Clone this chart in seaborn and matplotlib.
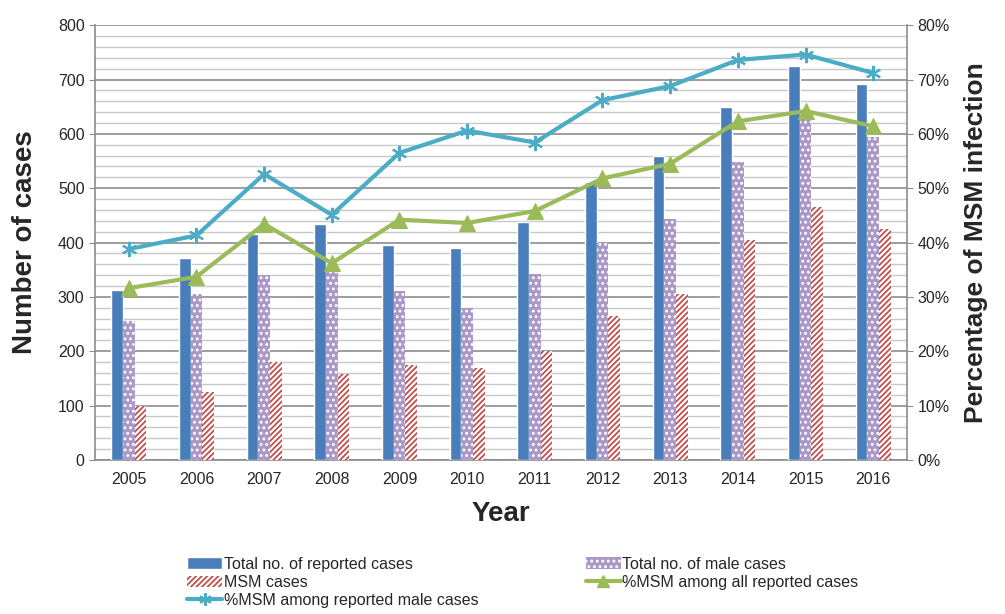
import matplotlib.pyplot as plt
import matplotlib.ticker as mticker
from matplotlib.lines import Line2D
import numpy as np
import pandas as pd
import seaborn as sns

years = ['2005', '2006', '2007', '2008', '2009', '2010', '2011', '2012', '2013', '2014', '2015', '2016']
total_cases = [313, 372, 415, 435, 395, 390, 438, 512, 560, 650, 725, 692]
male_cases = [255, 305, 340, 350, 310, 280, 343, 400, 443, 548, 625, 595]
msm_cases = [100, 125, 180, 158, 175, 170, 200, 265, 305, 405, 465, 425]
pct_msm_all = [31.6, 33.7, 43.4, 36.2, 44.2, 43.6, 45.8, 51.8, 54.5, 62.3, 64.2, 61.4]
pct_msm_male = [38.8, 41.3, 52.6, 45.1, 56.5, 60.6, 58.4, 66.2, 68.8, 73.6, 74.6, 71.2]

series_names = ['Total no. of reported cases', 'Total no. of male cases', 'MSM cases']

sns.set_style('white')
plt.rcParams['font.family'] = ['Liberation Sans', 'DejaVu Sans']
plt.rcParams['hatch.linewidth'] = 1.3

fig = plt.figure(figsize=(10.05, 6.14), dpi=100)
ax = fig.add_axes([0.0945, 0.251, 0.808, 0.708])

df = pd.DataFrame({'Year': years * 3,
                   'Cases': total_cases + male_cases + msm_cases,
                   'Series': [s for s in series_names for _ in years]})

blue = '#4a7ebb'
purple = '#ab98c6'
red = '#c0504d'
sns.barplot(data=df, x='Year', y='Cases', hue='Series', hue_order=series_names,
            palette=[blue, purple, 'white'], saturation=1, width=0.52, gap=0, ax=ax,
            legend=False, zorder=3)

# hatch the male and MSM bars
for bar in ax.containers[1]:
    bar.set_hatch('...')
    bar.set_edgecolor('white')
    bar.set_linewidth(0)
for bar in ax.containers[2]:
    bar.set_hatch('//////')
    bar.set_edgecolor(red)
    bar.set_linewidth(0)

ax.set_ylim(0, 800)
ax.yaxis.set_major_locator(mticker.MultipleLocator(100))
ax.yaxis.set_minor_locator(mticker.MultipleLocator(20))
ax.grid(which='minor', axis='y', color='#c8c8c8', linewidth=1.0, zorder=0)
ax.grid(which='major', axis='y', color='#8c8c8c', linewidth=1.2, zorder=0)
ax.set_axisbelow(True)
ax.set_xlim(-0.5, len(years) - 0.5)

for side in ['left', 'bottom', 'right']:
    ax.spines[side].set_color('#8c8c8c')
    ax.spines[side].set_linewidth(1.2)
ax.spines['top'].set_visible(False)
ax.tick_params(axis='y', which='major', length=4, color='#8c8c8c', labelsize=11.5, direction='out', left=True)
ax.tick_params(axis='y', which='minor', length=0)
ax.tick_params(axis='x', length=0, labelsize=11.5, pad=9)
ax.set_xlabel('Year', fontsize=20, fontweight='bold', labelpad=10)
ax.set_ylabel('Number of cases', fontsize=20, fontweight='bold', labelpad=14)

ax2 = ax.twinx()
xpos = np.arange(len(years))
teal = '#4bacc6'
green = '#9bbb59'
sns.lineplot(x=xpos, y=pct_msm_all, ax=ax2, color=green, linewidth=3, marker='^',
             markersize=11, markeredgecolor=green, zorder=5)
sns.lineplot(x=xpos, y=pct_msm_male, ax=ax2, color=teal, linewidth=3, marker=(6, 2, 0),
             markersize=11, markeredgecolor=teal, markeredgewidth=1.5, zorder=5)
ax2.set_ylim(0, 80)
ax2.yaxis.set_major_locator(mticker.MultipleLocator(10))
ax2.yaxis.set_major_formatter(mticker.FuncFormatter(lambda v, p: f'{v:.0f}%'))
ax2.tick_params(axis='y', length=4, color='#8c8c8c', labelsize=11.5, direction='out', right=True)
for side in ['left', 'bottom', 'right', 'top']:
    ax2.spines[side].set_visible(False)
ax2.set_ylabel('Percentage of MSM infection', fontsize=19, fontweight='bold', labelpad=10)
ax2.set_xlim(-0.5, len(years) - 0.5)

# legend below the chart, row-wise order
h_total = plt.Rectangle((0, 0), 1, 1, facecolor=blue)
h_male = plt.Rectangle((0, 0), 1, 1, facecolor=purple, hatch='...', edgecolor='white', linewidth=0)
h_msm = plt.Rectangle((0, 0), 1, 1, facecolor='white', hatch='//////', edgecolor=red, linewidth=0)
h_all = Line2D([], [], color=green, linewidth=3, marker='^', markersize=9)
h_mal = Line2D([], [], color=teal, linewidth=3, marker=(6, 2, 0), markersize=9, markeredgewidth=1.5)
handles = [h_total, h_msm, h_mal, h_male, h_all]
labels = ['Total no. of reported cases', 'MSM cases', '%MSM among reported male cases',
          'Total no. of male cases', '%MSM among all reported cases']
fig.legend(handles=handles, labels=labels, ncol=2, loc='upper left',
           bbox_to_anchor=(0.18, 0.104), frameon=False,
           fontsize=11.5, handlelength=2.2, handletextpad=0.1, columnspacing=6.7,
           labelspacing=0.2, borderaxespad=0)

fig.savefig('out.png', dpi=100)
